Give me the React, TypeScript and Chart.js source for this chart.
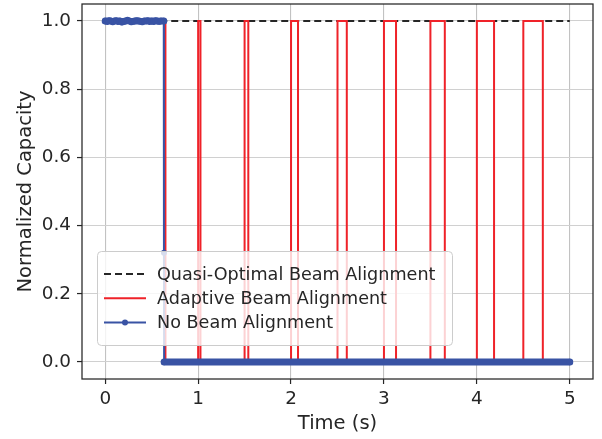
import { useEffect, useRef } from 'react';
import { Chart, registerables } from 'chart.js';

Chart.register(...registerables);

// Axis ticks
const xTicks = [0, 1, 2, 3, 4, 5];
const yTicks = [0.0, 0.2, 0.4, 0.6, 0.8, 1.0];

// Quasi-optimal beam alignment: full capacity over the whole run
const quasiTime = [0, 5];
const quasiValue = [1, 1];

// Adaptive beam alignment: full capacity until the first blockage,
// then recovered during each re-alignment window
const adaptiveDropTime = 0.648;
const pulseStart = [1.0, 1.5, 2.0, 2.5, 3.0, 3.5, 4.0, 4.5];
const pulseEnd = [1.025, 1.54, 2.075, 2.6, 3.13, 3.655, 4.185, 4.71];
const adaptiveEndTime = 5.0;

// No beam alignment: sampled capacity
const noBeamTime = [
  0.0, 0.02, 0.04, 0.06, 0.08, 0.1, 0.12, 0.14, 0.16, 0.18, 0.2, 0.22, 0.24, 0.26, 0.28, 0.3,
  0.32, 0.34, 0.36, 0.38, 0.4, 0.42, 0.44, 0.46, 0.48, 0.5, 0.52, 0.54, 0.56, 0.58, 0.6, 0.63,
  0.632, 0.634, 5.0,
];
const noBeamValue = [
  1.0, 0.999, 1.001, 1.0, 0.998, 1.0, 1.001, 0.999, 1.0, 0.997, 0.999, 1.0, 1.002, 1.0, 0.998, 0.999,
  1.0, 1.001, 1.0, 0.999, 0.998, 1.0, 1.0, 1.001, 0.999, 1.0, 0.999, 1.001, 1.0, 0.999, 1.0, 1.0,
  0.32, 0.0, 0.0,
];

const TEXT = '#262626';
const RED = '#ef2229';
const BLUE = '#3953a4';
const FONT = 'DejaVu Sans';

function buildAdaptive() {
  const pts: { x: number; y: number }[] = [
    { x: 0, y: 1 },
    { x: adaptiveDropTime, y: 1 },
    { x: adaptiveDropTime, y: 0 },
  ];
  pulseStart.forEach((s, i) => {
    pts.push({ x: s, y: 0 }, { x: s, y: 1 }, { x: pulseEnd[i], y: 1 }, { x: pulseEnd[i], y: 0 });
  });
  pts.push({ x: adaptiveEndTime, y: 0 });
  return pts;
}

const frameAndLegend = {
  id: 'frameAndLegend',
  afterDatasetsDraw(chart: any) {
    const { ctx, chartArea: a } = chart;
    ctx.save();
    // full axes frame
    ctx.strokeStyle = TEXT;
    ctx.lineWidth = 1.25;
    ctx.strokeRect(a.left, a.top, a.right - a.left, a.bottom - a.top);

    // legend box inside the plot area
    const bx = a.left + 15;
    const by = a.top + 247;
    const bw = 355;
    const bh = 94;
    ctx.beginPath();
    ctx.roundRect(bx + 0.5, by + 0.5, bw, bh, 4);
    ctx.fillStyle = 'rgba(255,255,255,0.8)';
    ctx.fill();
    ctx.strokeStyle = '#cccccc';
    ctx.lineWidth = 1;
    ctx.stroke();

    ctx.font = `17.6px "${FONT}"`;
    ctx.textBaseline = 'middle';
    ctx.textAlign = 'left';
    const rows = chart.data.datasets;
    rows.forEach((ds: any, i: number) => {
      const cy = by + 23 + i * 24.2;
      const hx0 = bx + 7;
      const hx1 = bx + 49;
      ctx.beginPath();
      ctx.setLineDash(ds.borderDash || []);
      ctx.strokeStyle = ds.borderColor;
      ctx.lineWidth = 2;
      ctx.moveTo(hx0, cy);
      ctx.lineTo(hx1, cy);
      ctx.stroke();
      ctx.setLineDash([]);
      if (ds.legendMarker) {
        ctx.beginPath();
        ctx.fillStyle = ds.borderColor;
        ctx.arc((hx0 + hx1) / 2, cy, 3, 0, Math.PI * 2);
        ctx.fill();
      }
      ctx.fillStyle = TEXT;
      ctx.fillText(ds.label, bx + 60, cy + 1);
    });
    ctx.restore();
  },
};

export default function App() {
  const ref = useRef<HTMLCanvasElement>(null);

  useEffect(() => {
    if (!ref.current) return;
    const quasi = quasiTime.map((t, i) => ({ x: t, y: quasiValue[i] }));
    const noBeam = noBeamTime.map((t, i) => ({ x: t, y: noBeamValue[i] }));

    const chart = new Chart(ref.current, {
      type: 'line',
      data: {
        datasets: [
          {
            label: 'Quasi-Optimal Beam Alignment',
            data: quasi,
            borderColor: TEXT,
            borderWidth: 2,
            borderDash: [7, 4],
            pointRadius: 0,
            order: 2,
          },
          {
            label: 'Adaptive Beam Alignment',
            data: buildAdaptive(),
            borderColor: RED,
            borderWidth: 2,
            pointRadius: 0,
            order: 1,
          },
          {
            label: 'No Beam Alignment',
            data: noBeam,
            borderColor: BLUE,
            backgroundColor: BLUE,
            borderWidth: 2,
            borderCapStyle: 'round',
            borderJoinStyle: 'round',
            pointRadius: (c: any) => (c.raw && c.raw.y > 0.05 && c.raw.y < 0.9 ? 3 : 3.2),
            pointBorderWidth: 0,
            pointBackgroundColor: BLUE,
            segment: {
              // densely sampled runs merge their markers into a solid band
              borderWidth: (c: any) =>
                Math.abs(c.p0.parsed.y - c.p1.parsed.y) < 0.01 ? 7 : 2,
            },
            legendMarker: true,
            order: 0,
          } as any,
        ],
      },
      options: {
        animation: false,
        responsive: false,
        events: [],
        parsing: false as any,
        layout: { padding: { left: 0, right: 9, top: 3, bottom: 0 } },
        plugins: { legend: { display: false }, tooltip: { enabled: false } },
        scales: {
          x: {
            type: 'linear',
            min: -0.25,
            max: 5.25,
            afterBuildTicks: (s: any) => {
              s.ticks = xTicks.map((v) => ({ value: v }));
            },
            afterFit: (s: any) => {
              s.height = 60;
              s.paddingLeft = 0;
              s.paddingRight = 0;
            },
            grid: {
              color: '#c2c2c2',
              lineWidth: 1.1,
              drawTicks: true,
              tickLength: 5,
              tickColor: TEXT,
              tickWidth: 1.2,
            },
            border: { display: false },
            ticks: {
              color: TEXT,
              padding: 4,
              maxRotation: 0,
              font: { family: FONT, size: 18.4 },
              callback: (v: any) => String(v),
            },
            title: {
              display: true,
              text: 'Time (s)',
              color: TEXT,
              font: { family: FONT, size: 19.5 },
              padding: { top: 0, bottom: 3.3 },
            },
          },
          y: {
            type: 'linear',
            min: -0.05,
            max: 1.05,
            afterBuildTicks: (s: any) => {
              s.ticks = yTicks.map((v) => ({ value: v }));
            },
            afterFit: (s: any) => {
              s.width = 82;
              s.paddingTop = 0;
              s.paddingBottom = 0;
            },
            grid: {
              color: '#d0d0d0',
              lineWidth: 1.1,
              drawTicks: true,
              tickLength: 5,
              tickColor: TEXT,
              tickWidth: 1.2,
            },
            border: { display: false },
            ticks: {
              color: TEXT,
              padding: 6,
              font: { family: FONT, size: 18.4 },
              callback: (v: any) => Number(v).toFixed(1),
            },
            title: {
              display: true,
              text: 'Normalized Capacity',
              color: TEXT,
              font: { family: FONT, size: 19.5 },
              padding: { top: 14.3, bottom: 0 },
            },
          },
        },
      },
      plugins: [frameAndLegend],
    } as any);

    return () => chart.destroy();
  }, []);

  return (
    <div style={{ position: 'fixed', left: 0, top: 0, width: 602, height: 439, background: '#fff' }}>
      <canvas ref={ref} width={602} height={439} style={{ width: 602, height: 439, display: 'block' }} />
    </div>
  );
}
